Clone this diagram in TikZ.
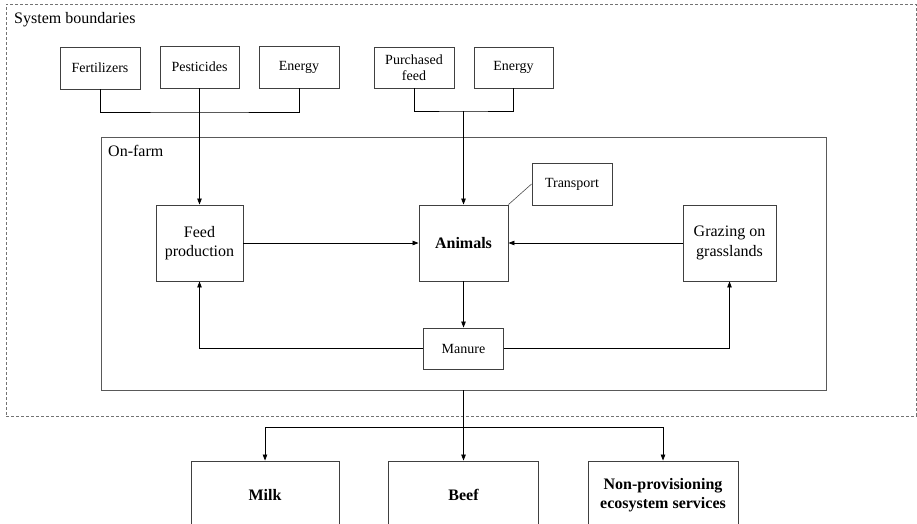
\documentclass[tikz,border=0pt]{standalone}
\usepackage{fontspec}
\setmainfont{Liberation Serif}
\usetikzlibrary{arrows.meta}
\begin{document}
\begin{tikzpicture}[x=1pt,y=-1pt,
  box/.style={draw=black!75, line width=0.9pt, align=center, inner sep=2pt, fill=white},
  small/.style={font=\fontsize{14}{16}\selectfont},
  mid/.style={font=\fontsize{16}{19.5}\selectfont},
  big/.style={font=\fontsize{16}{19.5}\selectfont\bfseries},
  conn/.style={draw=black, line width=0.8pt},
  arr/.style={conn, -{Triangle[length=6pt,width=4.5pt]}},
  frame/.style={draw=black!65, line width=0.9pt},
  dframe/.style={draw=black!55, line width=0.8pt, dash pattern=on 3pt off 2pt}
]
\useasboundingbox (0,0) rectangle (917,523);
% system boundaries
\node[dframe, minimum width=910pt, minimum height=412pt, inner sep=0pt] (sysb) at (461,210) {};
\node[mid, anchor=west, inner sep=0pt] (sysl) at (14,20) {System boundaries};
% on-farm
\node[frame, minimum width=725pt, minimum height=253pt, inner sep=0pt] (onfarm) at (463.5,263.5) {};
\node[mid, anchor=west, inner sep=0pt] (onl) at (108,151) {On-farm};
% top inputs
\node[box, small, minimum width=80pt, minimum height=42pt] (fert) at (100,68) {Fertilizers};
\node[box, small, minimum width=79pt, minimum height=42pt] (pest) at (199.5,67) {Pesticides};
\node[box, small, minimum width=80pt, minimum height=42pt] (en1) at (299,67) {Energy};
\node[box, small, minimum width=80pt, minimum height=41pt] (pfeed) at (414,67.5) {Purchased\\feed};
\node[box, small, minimum width=79pt, minimum height=41pt] (en2) at (513.5,67.5) {Energy};
% farm nodes
\node[box, mid, minimum width=87pt, minimum height=76pt] (feedp) at (199.5,243) {Feed\\production};
\node[box, big, minimum width=89pt, minimum height=76pt] (animals) at (463.5,243) {Animals};
\node[box, small, minimum width=80pt, minimum height=42pt] (transport) at (572,184) {Transport};
\node[box, mid, minimum width=93pt, minimum height=76pt] (grazing) at (729.5,243) {Grazing on\\grasslands};
\node[box, small, minimum width=80pt, minimum height=41pt] (manure) at (463.5,348.5) {Manure};
% outputs
\node[box, big, minimum width=148pt, minimum height=68pt] (milk) at (265,495) {Milk};
\node[box, big, minimum width=150pt, minimum height=68pt] (beef) at (463.5,495) {Beef};
\node[box, big, minimum width=150pt, minimum height=68pt] (np) at (663,495) {Non-provisioning\\ecosystem services};
% coordinates
\coordinate (j1) at (199.5,112);
\coordinate (j2) at (463.5,111);
\coordinate (j3) at (463.5,427);
\coordinate (ofb) at (463.5,390);
% connectors
\draw[conn] (fert.south) |- (j1) -| (en1.south);
\draw[arr] (pest.south) -- (feedp.north);
\draw[conn] (pfeed.south) |- (j2) -| (en2.south);
\draw[arr] (j2) -- (animals.north);
\draw[arr] (feedp.east) -- (animals.west);
\draw[arr] (grazing.west) -- (animals.east);
\draw[arr] (animals.south) -- (manure.north);
\draw[arr] (manure.west) -| (feedp.south);
\draw[arr] (manure.east) -| (grazing.south);
\draw[draw=black!70, line width=0.6pt] (animals.north east) -- (transport.west);
\draw[arr] (ofb) -- (beef.north);
\draw[arr] (j3) -| (milk.north);
\draw[arr] (j3) -| (np.north);
\end{tikzpicture}
\end{document}
